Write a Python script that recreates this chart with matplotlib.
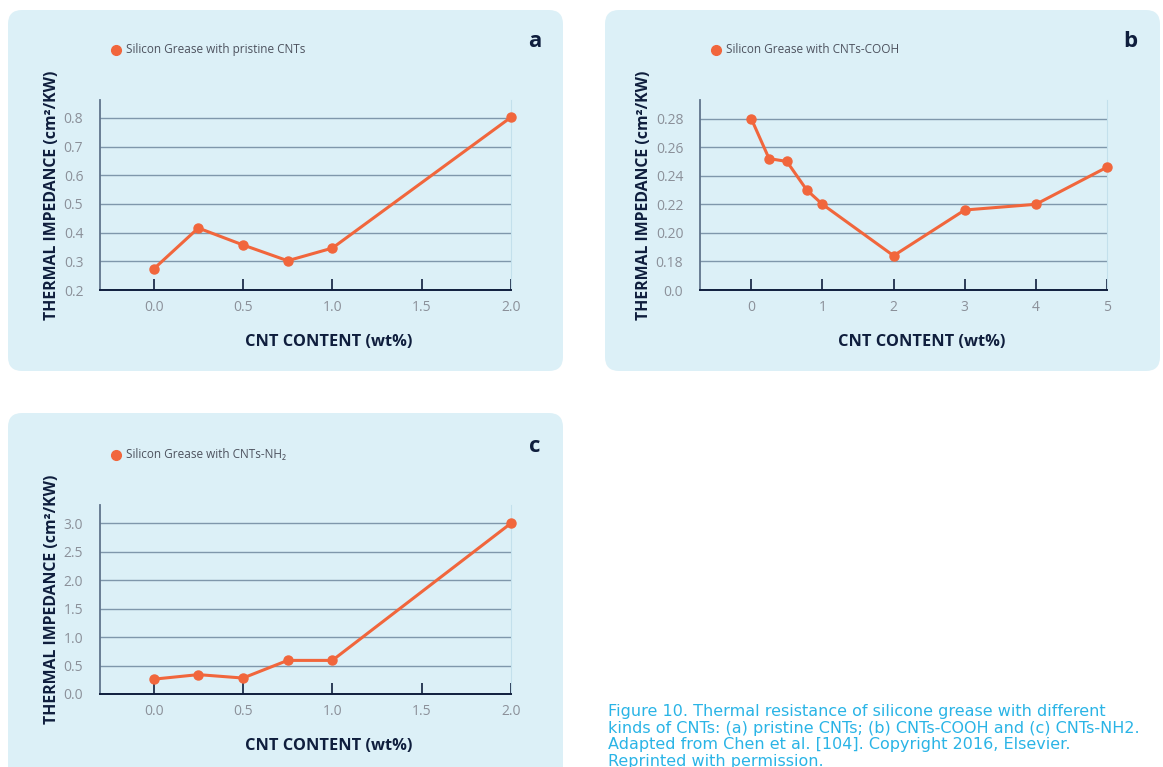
import matplotlib
matplotlib.use("Agg")
from matplotlib import pyplot as plt
from matplotlib.patches import FancyBboxPatch

plt.rcParams['font.family'] = ['Open Sans', 'DejaVu Sans']

# pristine CNTs
xa = [0.0, 0.25, 0.5, 0.75, 1.0, 2.0]
ya = [0.273, 0.416, 0.357, 0.302, 0.346, 0.802]

# CNTs-COOH (lowest tick is labelled 0.0, axis is broken)
xb = [0, 0.25, 0.5, 0.78, 1, 2, 3, 4, 5]
yb = [0.280, 0.252, 0.250, 0.230, 0.220, 0.184, 0.216, 0.220, 0.246]
b_ticks = [0.16, 0.18, 0.20, 0.22, 0.24, 0.26, 0.28]
b_labels = ['0.0', '0.18', '0.20', '0.22', '0.24', '0.26', '0.28']

# CNTs-NH2
xc = [0.0, 0.25, 0.5, 0.75, 1.0, 2.0]
yc = [0.26, 0.34, 0.28, 0.59, 0.59, 3.0]

ORANGE = '#f1663c'
NAVY = '#0f1e3d'
PANEL = '#dcf0f7'
TICKGREY = '#8b9099'
CAPTION = '#2ab4e6'

fig = plt.figure(figsize=(11.63, 7.67), dpi=100)
fig.patch.set_facecolor('white')

# background panels in pixel coordinates
bg = fig.add_axes([0, 0, 1, 1], zorder=-10)
bg.set_xlim(0, 1163)
bg.set_ylim(767, 0)
bg.axis('off')
for (x0, y0, w, h) in [(8, 10, 555, 361), (605, 10, 555, 361), (8, 413, 555, 370)]:
    bg.add_patch(FancyBboxPatch((x0, y0), w, h,
                                boxstyle="round,pad=0,rounding_size=14",
                                fc=PANEL, ec='none'))


def panel(rect, x, y, xlim, ylim, xticks, xlabels, yticks, ylabels, legend, letter,
          xlab_x=0.556):
    ax = fig.add_axes(rect)
    ax.set_facecolor('none')
    ax.plot(x, y, color=ORANGE, lw=2.2, marker='o', ms=6.5, zorder=5, clip_on=False)
    ax.set_xlim(*xlim)
    ax.set_ylim(*ylim)
    ax.set_xticks(xticks)
    ax.set_xticklabels(xlabels)
    ax.set_yticks(yticks)
    ax.set_yticklabels(ylabels)
    ax.tick_params(axis='x', direction='in', length=8, width=1.2, color=NAVY,
                   labelcolor=TICKGREY, labelsize=10, pad=7)
    ax.tick_params(axis='y', length=0, labelcolor=TICKGREY, labelsize=10, pad=12)
    # gridlines stop at the last x value
    for t in yticks:
        ax.plot([xlim[0], xticks[-1]], [t, t], color='#7f97ab', lw=1.0, zorder=1)
    ax.spines['top'].set_visible(False)
    ax.spines['right'].set_color('#c3e0ec')
    ax.spines['right'].set_bounds(ylim[0], ylim[1])
    ax.spines['left'].set_color('#60748c')
    ax.spines['left'].set_linewidth(1.3)
    ax.spines['bottom'].set_color(NAVY)
    ax.spines['bottom'].set_linewidth(1.4)
    ax.set_ylabel('THERMAL IMPEDANCE (cm\u00b2/KW)', fontsize=11.4,
                  fontweight='bold', color=NAVY, labelpad=3)
    ax.text(xlab_x, -0.274, 'CNT CONTENT (wt%)', transform=ax.transAxes,
            fontsize=11.8, fontweight='bold', color=NAVY, ha='center', va='center')
    # legend entry
    ax.plot([0.039], [1.265], 'o', color=ORANGE, ms=7, transform=ax.transAxes,
            clip_on=False)
    ax.text(0.063, 1.265, legend, transform=ax.transAxes, fontsize=8.5,
            color='#4d525e', ha='left', va='center')
    ax.text(1.057, 1.31, letter, transform=ax.transAxes, fontsize=16,
            fontweight='bold', color=NAVY, ha='center', va='center')
    return ax


panel([0.0860, 0.6219, 0.3534, 0.2477], xa, ya, (-0.3, 2.0), (0.2, 0.862),
      [0.0, 0.5, 1.0, 1.5, 2.0], ['0.0', '0.5', '1.0', '1.5', '2.0'],
      [0.2, 0.3, 0.4, 0.5, 0.6, 0.7, 0.8],
      ['0.2', '0.3', '0.4', '0.5', '0.6', '0.7', '0.8'],
      'Silicon Grease with pristine CNTs', 'a')

panel([0.6019, 0.6219, 0.3500, 0.2477], xb, yb, (-0.72, 5.0), (0.16, 0.293),
      [0, 1, 2, 3, 4, 5], ['0', '1', '2', '3', '4', '5'],
      b_ticks, b_labels,
      'Silicon Grease with CNTs-COOH', 'b', xlab_x=0.545)

panel([0.0860, 0.0952, 0.3534, 0.2464], xc, yc, (-0.3, 2.0), (0.0, 3.32),
      [0.0, 0.5, 1.0, 1.5, 2.0], ['0.0', '0.5', '1.0', '1.5', '2.0'],
      [0.0, 0.5, 1.0, 1.5, 2.0, 2.5, 3.0],
      ['0.0', '0.5', '1.0', '1.5', '2.0', '2.5', '3.0'],
      'Silicon Grease with CNTs-NH\u2082', 'c')

caption = ("Figure 10. Thermal resistance of silicone grease with different\n"
           "kinds of CNTs: (a) pristine CNTs; (b) CNTs-COOH and (c) CNTs-NH2.\n"
           "Adapted from Chen et al. [104]. Copyright 2016, Elsevier.\n"
           "Reprinted with permission.")
fig.text(608 / 1163, 1 - 704 / 767, caption, color=CAPTION, fontsize=11.5,
         family='DejaVu Sans', ha='left', va='top', linespacing=1.13)

fig.savefig('out.png', dpi=100)
